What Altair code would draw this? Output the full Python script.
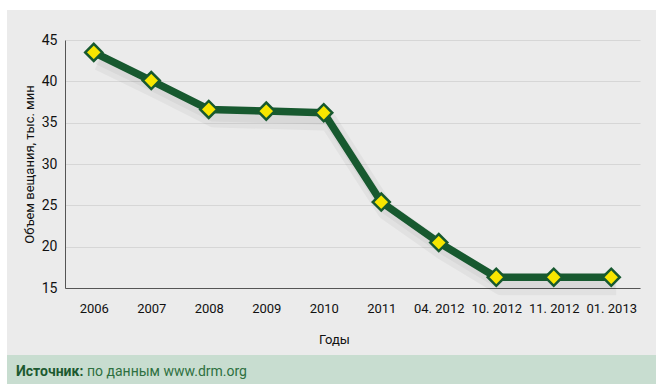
import altair as alt
import pandas as pd

periods = ["2006", "2007", "2008", "2009", "2010", "2011",
           "04. 2012", "10. 2012", "11. 2012", "01. 2013"]
volume = [43.5, 40.1, 36.6, 36.4, 36.2, 25.4, 20.5, 16.3, 16.3, 16.3]

y_ticks = [15, 20, 25, 30, 35, 40, 45]
x_title = "Годы"
y_title = "Объем вещания, тыс. мин"
source_bold = "Источник:"
source_text = "по данным www.drm.org"

FONT = "Roboto, Liberation Sans, sans-serif"

df = pd.DataFrame({"period": periods, "volume": volume})
one = pd.DataFrame({"k": [0]})

W, H = 575, 248

x_enc = alt.X("period:N", sort=periods,
              scale=alt.Scale(type="point", padding=0.5),
              axis=alt.Axis(title=x_title, labelAngle=0, ticks=False,
                            labelPadding=14, labelFontSize=13, labelFont=FONT,
                            labelColor="#111", domainColor="#555",
                            titleFont=FONT, titleFontSize=13, titleFontWeight="normal",
                            titleColor="#111", titleX=269, titleY=55,
                            titleBaseline="alphabetic", grid=False))
y_enc = alt.Y("volume:Q",
              scale=alt.Scale(domain=[15, 45], nice=False, zero=False),
              axis=alt.Axis(title=y_title, values=y_ticks, ticks=False,
                            labelPadding=8, labelFontSize=14, labelFont=FONT,
                            labelColor="#111", domainColor="#555",
                            titleFont=FONT, titleFontSize=13, titleFontWeight="normal",
                            titleColor="#111", titlePadding=5,
                            grid=True, gridColor="#d6d6d6", gridWidth=1.2))

top_strip = alt.Chart(one).mark_rect(color="white").encode(
    x=alt.value(-70), x2=alt.value(600), y=alt.value(-45), y2=alt.value(-30))
left_strip = alt.Chart(one).mark_rect(color="white").encode(
    x=alt.value(-70), x2=alt.value(-58), y=alt.value(-45), y2=alt.value(350))
footer = alt.Chart(one).mark_rect(color="#c8ddd0").encode(
    x=alt.value(-58), x2=alt.value(600), y=alt.value(315), y2=alt.value(350))
ft1 = alt.Chart(one).mark_text(text=source_bold, font=FONT, fontSize=14,
                               fontWeight="bold", color="#1d5a30",
                               align="left", baseline="middle").encode(
    x=alt.value(-49), y=alt.value(332))
ft2 = alt.Chart(one).mark_text(text=source_text, font=FONT, fontSize=14,
                               color="#2e7040", align="left",
                               baseline="middle").encode(
    x=alt.value(22), y=alt.value(332))

base = alt.Chart(df).encode(x=x_enc, y=y_enc)
shadow1 = base.mark_line(color="#000", opacity=0.04, strokeWidth=18,
                         xOffset=5, yOffset=9, strokeJoin="round")
shadow2 = base.mark_line(color="#000", opacity=0.04, strokeWidth=10,
                         xOffset=4, yOffset=7, strokeJoin="round")
line = base.mark_line(color="#17592f", strokeWidth=7.5, strokeJoin="round")
pts = base.mark_point(shape="diamond", filled=True, size=290,
                      fill="#f7e600", stroke="#17592f", strokeWidth=2.5,
                      opacity=1)

chart = alt.layer(top_strip, left_strip, footer, ft1, ft2,
                  shadow1, shadow2, line, pts).properties(
    width=W, height=H,
    autosize=alt.AutoSizeParams(type="none"),
    padding={"left": 65, "top": 40, "right": 16, "bottom": 96},
    background="#ebebeb",
).configure_view(stroke=None)

chart.save("out.html", embed_options={"renderer": "svg", "actions": False})
